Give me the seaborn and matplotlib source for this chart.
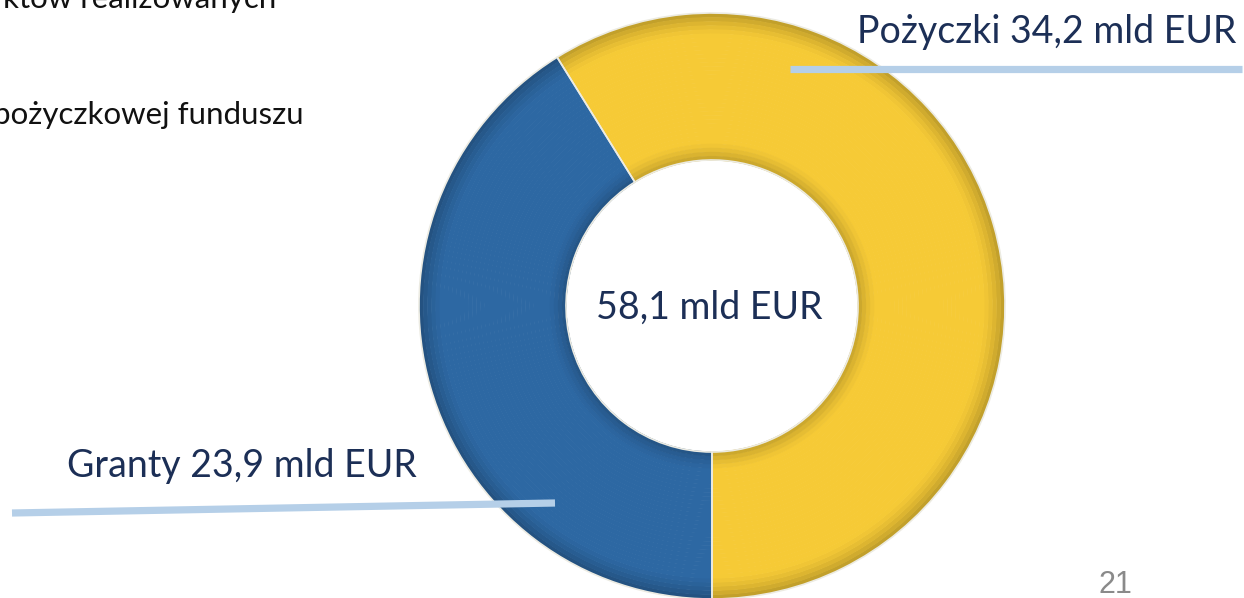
import numpy as np
import matplotlib
matplotlib.use("Agg")
import matplotlib.pyplot as plt
import matplotlib.colors as mcolors
import seaborn as sns

# data
labels = ["Pożyczki", "Granty"]
values = [34.2, 23.9]
total_label = "58,1 mld EUR"
label_texts = ["Pożyczki 34,2 mld EUR", "Granty 23,9 mld EUR"]
side_texts = ["któw realizowanych", "pożyczkowej funduszu"]
page_no = "21"

colors = ["#F6CA36", "#2D68A3"]
navy = "#1C2F56"
line_col = "#B5CFE8"

sns.set_theme(style="white")
plt.rcParams["font.family"] = ["Lato", "DejaVu Sans"]

W, H = 1244, 598
fig = plt.figure(figsize=(W / 100, H / 100), dpi=100)
ax = fig.add_axes([0, 0, 1, 1])


def Y(y):
    # image rows -> data coords
    return H - y


cx, cy = 712, Y(306)
R, r = 293, 146

# donut with a soft bevel: many thin rings, darker toward both edges
n = 36
step = (R - r) / n
for i in range(n):
    t = (i + 0.5) / n  # 0 = outer edge, 1 = inner edge
    shade = 1.0
    if t < 0.16:
        shade -= 0.24 * (1 - t / 0.16) ** 1.5
    if t > 0.87:
        shade -= 0.20 * ((t - 0.87) / 0.13) ** 1.5
    ring_cols = []
    for c in colors:
        rgb = np.array(mcolors.to_rgb(c)) * shade
        ring_cols.append(np.clip(rgb, 0, 1))
    ax.pie(values, colors=ring_cols, startangle=270, counterclock=True,
           radius=R - i * step, center=(cx, cy),
           wedgeprops=dict(width=step + 0.6, linewidth=0, antialiased=True))

# thin light seam between slices
ax.pie(values, colors=["none", "none"], startangle=270, counterclock=True,
       radius=R, center=(cx, cy),
       wedgeprops=dict(width=R - r, edgecolor="#ECEBE2", linewidth=1.2, fill=False))

# leader lines
ax.plot([790, 1242], [Y(69), Y(69)], color=line_col, lw=5.2, solid_capstyle="butt", zorder=5)
ax.plot([12, 555], [Y(513), Y(503)], color=line_col, lw=5.2, solid_capstyle="butt", zorder=5)

# labels
ax.text(857, Y(43), label_texts[0], fontsize=27, color=navy, ha="left", va="baseline")
ax.text(67, Y(477), label_texts[1], fontsize=27, color=navy, ha="left", va="baseline")
ax.text(709, Y(319), total_label, fontsize=27, color=navy, ha="center", va="baseline", zorder=6)

# clipped body text on the left
ax.text(276, Y(8), side_texts[0], fontsize=22.5, color="#111111", ha="right", va="baseline")
ax.text(304, Y(124), side_texts[1], fontsize=22.5, color="#111111", ha="right", va="baseline")

ax.text(1115, Y(593), page_no, fontsize=22, color="#8A8A8A", ha="center", va="baseline",
        family=["Liberation Sans", "DejaVu Sans"])

ax.set_xlim(0, W)
ax.set_ylim(0, H)
ax.set_aspect("equal")
ax.axis("off")

fig.savefig("out.png", dpi=100)
